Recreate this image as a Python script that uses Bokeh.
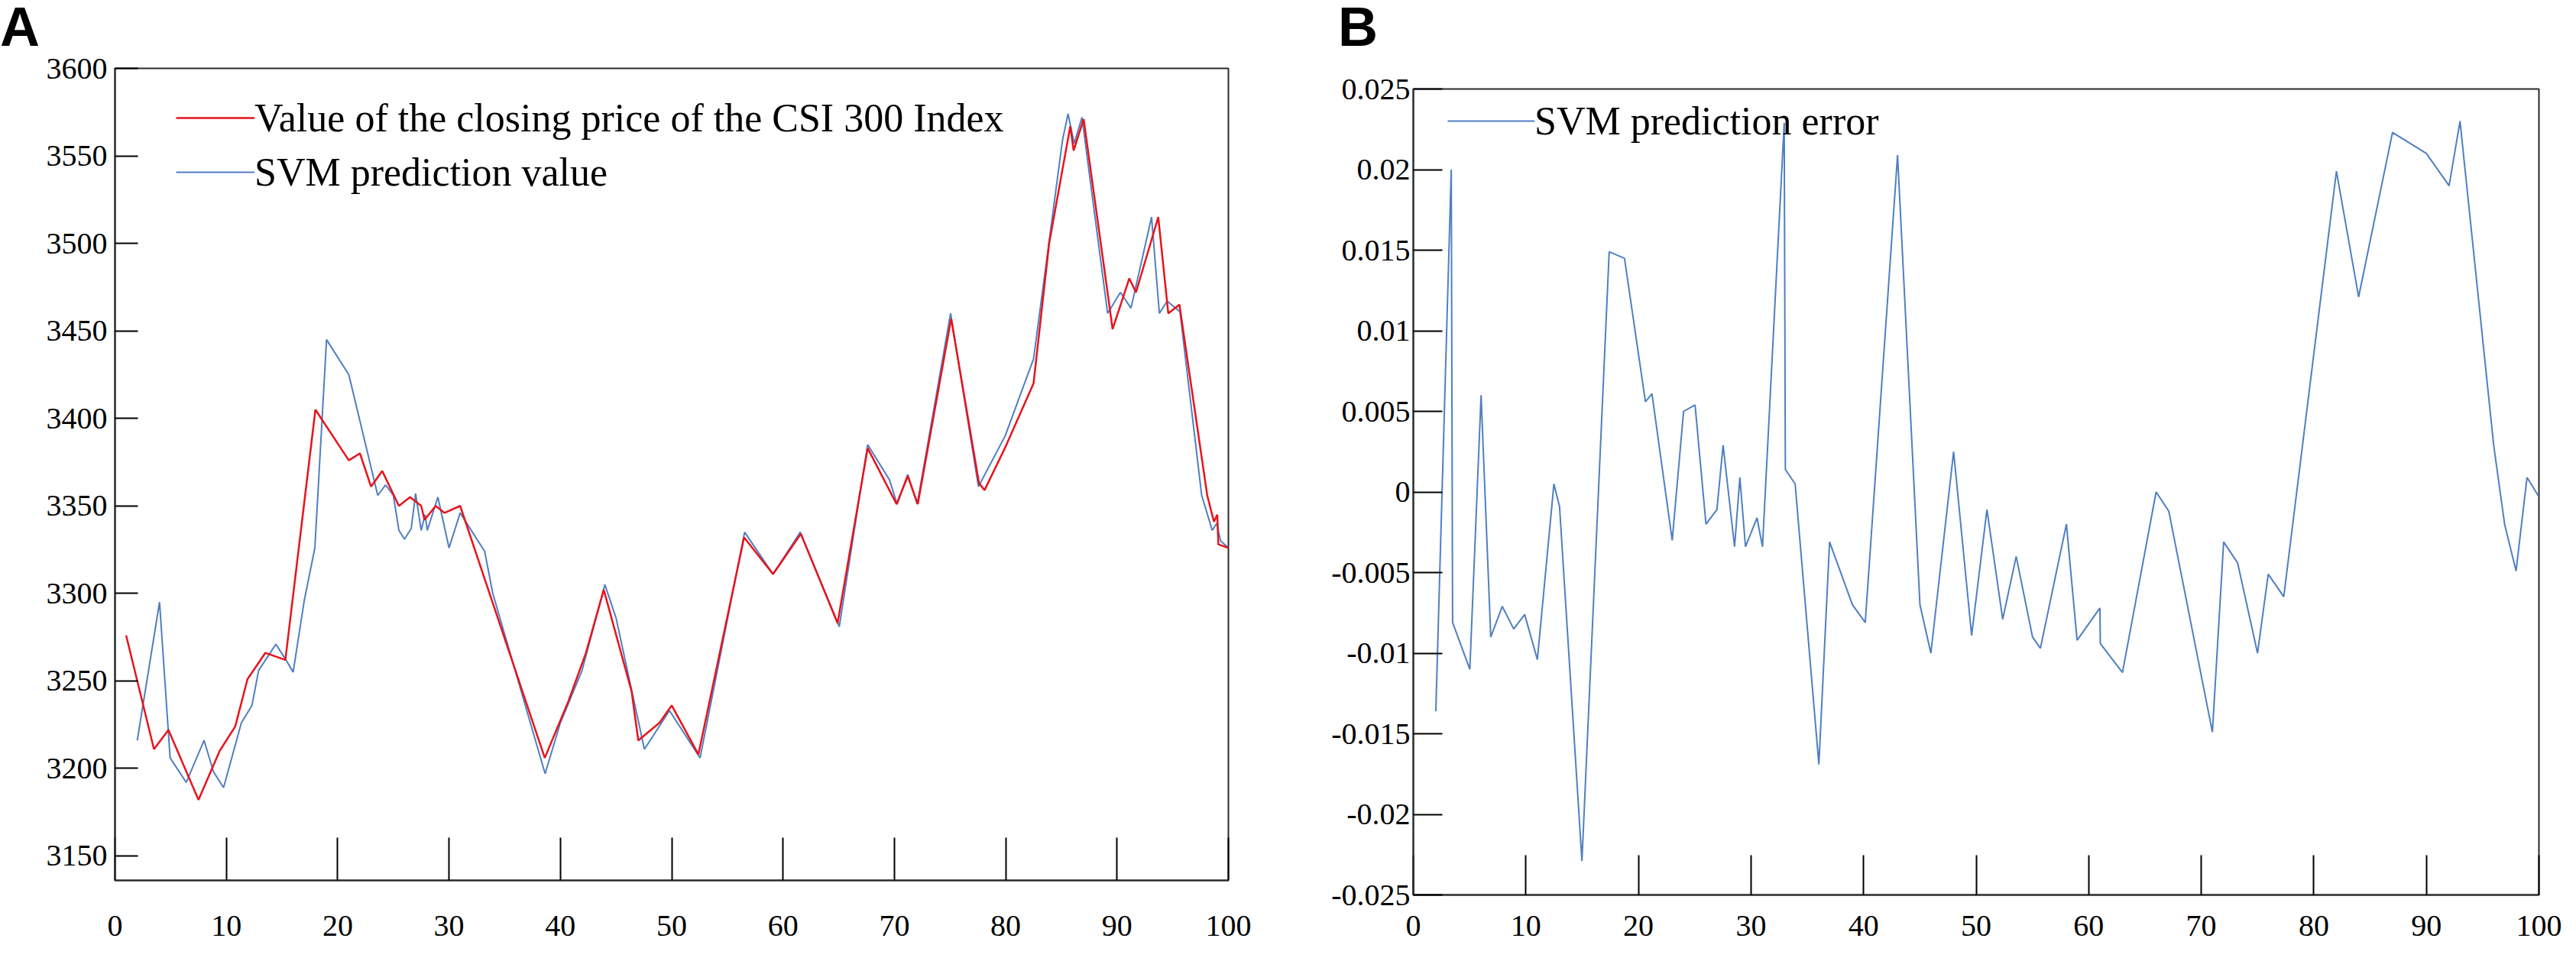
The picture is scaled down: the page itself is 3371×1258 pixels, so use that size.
from bokeh.plotting import figure
from bokeh.models import Range1d, FixedTicker, Legend, LegendItem, Div
from bokeh.layouts import row, column
from bokeh.embed import file_html
from bokeh.resources import INLINE

# ---------------- data ----------------
close_x = [1, 3.5, 4.8, 7.5, 9.4, 10.8, 11.9, 13.5, 15.3, 18.0, 21.0, 22.0, 23.0, 24.0,
           25.5, 26.5, 27.5, 27.8, 28.8, 29.6, 31.0, 38.6, 40.7, 42.3, 43.9, 46.4, 47.0,
           48.9, 50.0, 52.4, 56.5, 59.1, 61.6, 64.9, 67.6, 70.2, 71.2, 72.1, 75.1, 77.6,
           78.1, 80.0, 82.5, 83.9, 85.8, 86.1, 87.0, 89.6, 91.1, 91.7, 93.7, 94.6, 95.6,
           98.1, 98.7, 99.0, 99.1, 100]
close_y = [3276, 3211, 3222, 3182, 3210, 3224, 3251, 3266, 3262, 3405, 3376, 3380, 3361, 3370,
           3350, 3355, 3350, 3342, 3350, 3346, 3350, 3206, 3238, 3266, 3302, 3244, 3216,
           3226, 3236, 3208, 3332, 3311, 3334, 3283, 3383, 3351, 3367, 3351, 3457, 3363,
           3359, 3384, 3420, 3500, 3567, 3553, 3571, 3451, 3480, 3472, 3515, 3460, 3465,
           3356, 3341, 3345, 3328, 3326]

svm_x = [2.0, 4.0, 4.95, 6.4, 8.0, 8.85, 9.75, 11.35, 12.3, 12.9, 14.45, 15.35, 16.0, 17.0,
         17.95, 19.0, 21.0, 23.6, 24.3, 25.0, 25.5, 26.0, 26.6, 27.0, 27.5, 27.85, 28.05,
         29.0, 30.0, 31.0, 33.2, 33.93, 38.63, 40.0, 41.95, 44.0, 45.0, 47.55, 49.8, 52.55,
         56.55, 59.1, 61.55, 65.05, 67.6, 69.55, 70.25, 71.2, 72.05, 75.05, 77.55, 79.95,
         82.5, 85.1, 85.6, 86.15, 86.85, 89.15, 90.3, 91.25, 93.1, 93.8, 94.5, 95.65, 97.6,
         98.55, 98.95, 99.3, 100]
svm_y = [3216, 3295, 3206, 3192, 3216, 3198, 3189, 3226, 3236, 3256, 3271, 3262, 3255, 3296,
         3326, 3445, 3425, 3356, 3362, 3356, 3336, 3331, 3337, 3357, 3336, 3345, 3336,
         3355, 3326, 3346, 3324, 3300, 3197, 3226, 3256, 3305, 3286, 3211, 3233, 3206,
         3335, 3311, 3335, 3281, 3385, 3365, 3351, 3368, 3351, 3460, 3361, 3390,
         3434, 3559, 3574, 3557, 3572, 3460, 3472, 3463, 3515, 3460, 3467, 3461, 3356,
         3336, 3340, 3330, 3326]

err_x = [2.0, 3.37, 3.49, 5.02, 6.02, 6.88, 7.9, 8.92, 9.89, 11.02, 12.49, 12.99, 14.98, 17.4,
         18.76, 20.62, 21.2, 23.0, 24.01, 25.03, 26.0, 26.97, 27.52, 28.54, 29.01, 29.51,
         30.53, 31.02, 32.95, 33.05, 33.92, 36.03, 36.98, 39.01, 40.15, 43.02, 45.01, 45.98,
         48.0, 49.6, 50.96, 52.36, 53.56, 55.01, 55.71, 58.02, 58.97, 61.0, 61.03, 63.0,
         65.99, 67.12, 70.99, 71.99, 73.23, 75.0, 75.95, 77.33, 82.01, 83.98, 86.99, 90.0,
         92.02, 92.99, 95.98, 96.95, 97.97, 98.94, 100]
err_y = [-0.0136, 0.0200, -0.0081, -0.0110, 0.0060, -0.0090, -0.0071, -0.0085, -0.0076,
         -0.0104, 0.0005, -0.0009, -0.0229, 0.0149, 0.0145, 0.0056, 0.0061, -0.0030, 0.0050,
         0.0054, -0.0020, -0.0011, 0.0029, -0.0034, 0.0009, -0.0034, -0.0016, -0.0034,
         0.0229, 0.0014, 0.0005, -0.0169, -0.0031, -0.0070, -0.0081, 0.0209, -0.0070,
         -0.0100, 0.0025, -0.0089, -0.0011, -0.0079, -0.0040, -0.0090, -0.0097, -0.0020,
         -0.0092, -0.0072, -0.0094, -0.0112, 0.0000, -0.0012, -0.0149, -0.0031, -0.0044,
         -0.0100, -0.0051, -0.0065, 0.0199, 0.0121, 0.0223, 0.0210, 0.0190, 0.0230, 0.0029,
         -0.0020, -0.0049, 0.0009, -0.0003]

x_ticks = [0, 10, 20, 30, 40, 50, 60, 70, 80, 90, 100]
price_ticks = [3150, 3200, 3250, 3300, 3350, 3400, 3450, 3500, 3550, 3600]
err_ticks = [-0.025, -0.02, -0.015, -0.01, -0.005, 0, 0.005, 0.01, 0.015, 0.02, 0.025]
err_tick_labels = ["-0.025", "-0.02", "-0.015", "-0.01", "-0.005", "0",
                   "0.005", "0.01", "0.015", "0.02", "0.025"]

legend_a = ["Value of the closing price of the CSI 300 Index", "SVM prediction value"]
legend_b = ["SVM prediction error"]
panel_labels = ["A", "B"]

RED = "#e8131c"
BLUE = "#4f7fc2"
SERIF = "Liberation Serif"


def style(p, x_tick_in, y_tick_in, x_standoff, y_standoff):
    p.xgrid.grid_line_color = None
    p.ygrid.grid_line_color = None
    p.outline_line_color = "#2b2b2b"
    p.outline_line_width = 2
    p.outline_line_alpha = 1
    p.background_fill_color = "white"
    p.border_fill_color = "white"
    for ax in (p.xaxis[0], p.yaxis[0]):
        ax.axis_line_color = "#2b2b2b"
        ax.axis_line_width = 2
        ax.major_tick_line_color = "black"
        ax.major_tick_line_width = 2
        ax.major_tick_out = 0
        ax.minor_tick_out = 0
        ax.minor_tick_in = 0
        ax.minor_tick_line_color = None
        ax.major_label_text_font = SERIF
        ax.major_label_text_font_size = "40px"
        ax.major_label_text_color = "black"
    p.xaxis[0].major_tick_in = x_tick_in
    p.yaxis[0].major_tick_in = y_tick_in
    p.xaxis[0].major_label_standoff = x_standoff
    p.yaxis[0].major_label_standoff = y_standoff
    p.xaxis[0].ticker = FixedTicker(ticks=x_ticks)


def make_legend(items, loc, glyph_w):
    lg = Legend(items=items, location=loc)
    lg.border_line_color = None
    lg.background_fill_alpha = 0
    lg.label_text_font = SERIF
    lg.label_text_font_size = "52px"
    lg.label_text_color = "black"
    lg.glyph_width = glyph_w
    lg.glyph_height = 70
    lg.label_height = 70
    lg.label_standoff = 0
    lg.padding = 0
    lg.margin = 0
    lg.spacing = 1
    return lg


def panel_letter(letter, width, height, pad_left):
    html = ('<div style="font-family: \'Liberation Sans\', Arial, sans-serif; font-weight: bold; '
            'font-size: 72px; line-height: 70px; color: black; padding-left: %dpx; '
            'margin: 0;">%s</div>' % (pad_left, letter))
    return Div(text=html, width=width, height=height, margin=(0, 0, 0, 0))


# ---------------- panel A ----------------
pA = figure(width=1692, height=1182, x_range=Range1d(0, 100), y_range=Range1d(3136, 3600),
            output_backend="svg", toolbar_location=None,
            min_border_left=150, min_border_right=85, min_border_top=29, min_border_bottom=90)
style(pA, 56, 30, 46, 10)
pA.yaxis[0].ticker = FixedTicker(ticks=price_ticks)

r_svm = pA.line(svm_x, svm_y, line_color=BLUE, line_width=2)
r_close = pA.line(close_x, close_y, line_color=RED, line_width=2.5)

legA = make_legend([LegendItem(label=legend_a[0], renderers=[r_close]),
                    LegendItem(label=legend_a[1], renderers=[r_svm])], (80, 892), 103)
pA.add_layout(legA)

# ---------------- panel B ----------------
pB = figure(width=1663, height=1172, x_range=Range1d(0, 100), y_range=Range1d(-0.025, 0.025),
            output_backend="svg", toolbar_location=None,
            min_border_left=157, min_border_right=33, min_border_top=46, min_border_bottom=71)
style(pB, 52, 38, 27, 4)
pB.yaxis[0].ticker = FixedTicker(ticks=err_ticks)
pB.yaxis[0].major_label_overrides = {t: l for t, l in zip(err_ticks, err_tick_labels)}

r_err = pB.line(err_x, err_y, line_color=BLUE, line_width=2)
legB = make_legend([LegendItem(label=legend_b[0], renderers=[r_err])], (45, 978), 114)
pB.add_layout(legB)

colA = column(panel_letter(panel_labels[0], 1692, 60, 0), pA)
colB = column(panel_letter(panel_labels[1], 1663, 70, 59), pB)
layout = row(colA, colB)
open("out.html", "w").write(file_html(layout, INLINE))
